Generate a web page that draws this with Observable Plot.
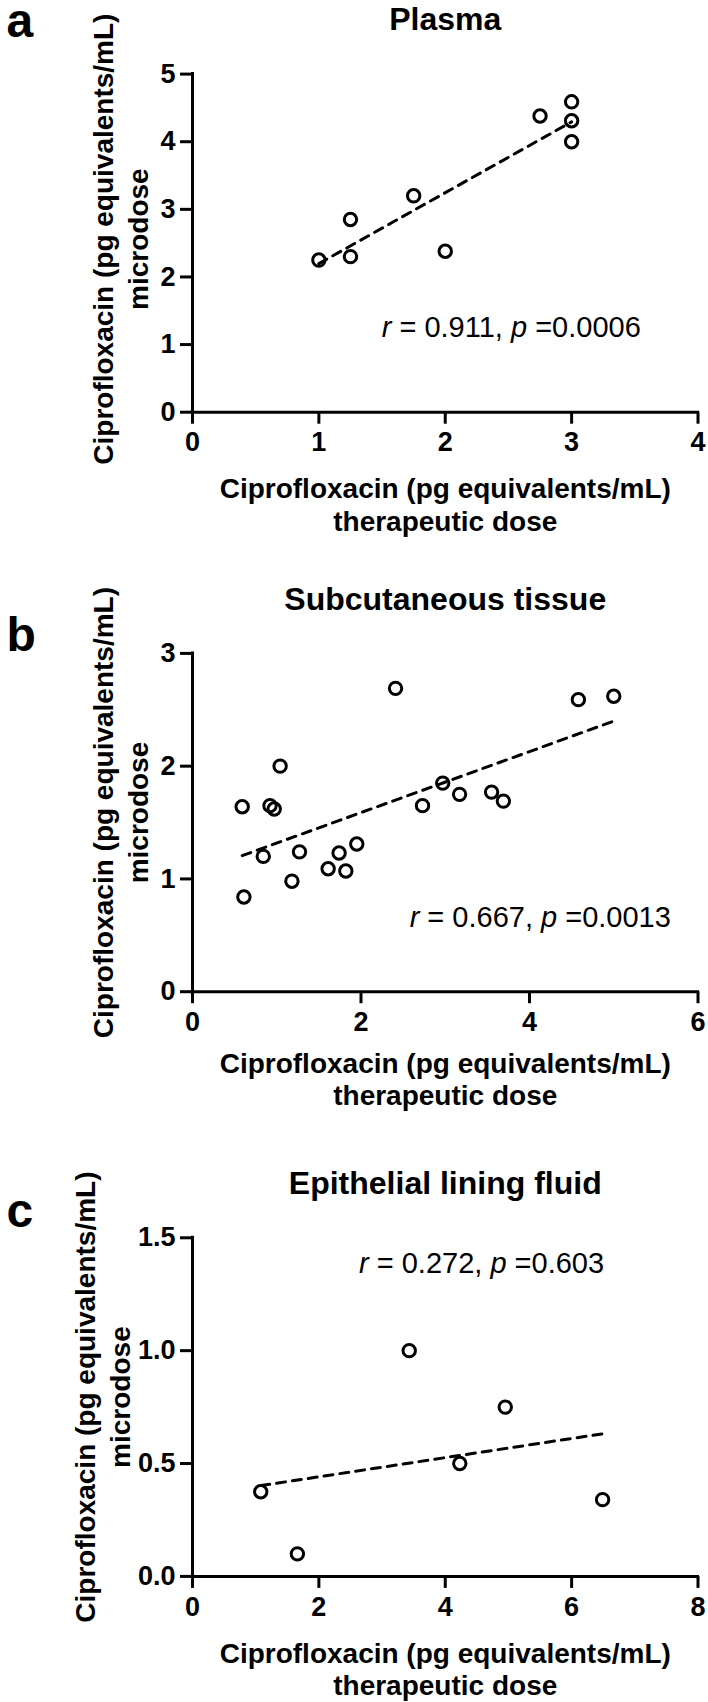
<!DOCTYPE html>
<html><head><meta charset="utf-8">
<script src="https://cdn.jsdelivr.net/npm/d3@7"></script>
<script src="https://cdn.jsdelivr.net/npm/@observablehq/plot@0.6"></script>
<style>html,body{margin:0;padding:0;background:#fff}#chart svg{display:block}</style>
</head><body><div id="chart"></div>
<script>
// ---- data ----
const plasmaX = [1, 1.25, 1.25, 1.75, 2, 2.75, 3, 3, 3];
const plasmaY = [2.25, 2.85, 2.3, 3.2, 2.38, 4.38, 4.59, 4.31, 4.0];

const subcX = [0.59, 0.61, 0.84, 0.92, 0.97, 1.04, 1.18, 1.27, 1.61, 1.74, 1.82, 1.95, 2.41, 2.73, 2.97, 3.17, 3.55, 3.69, 4.58, 5.0];
const subcY = [1.64, 0.84, 1.2, 1.65, 1.62, 2.0, 0.98, 1.24, 1.09, 1.23, 1.07, 1.31, 2.69, 1.65, 1.85, 1.75, 1.77, 1.69, 2.59, 2.62];

const elfX = [1.08, 1.66, 3.43, 4.23, 4.95, 6.49];
const elfY = [0.375, 0.1, 1.0, 0.5, 0.75, 0.34];

const titles = ["Plasma", "Subcutaneous tissue", "Epithelial lining fluid"];
const letters = ["a", "b", "c"];
const stats = [
  ["r", " = 0.911, ", "p", " =0.0006"],
  ["r", " = 0.667, ", "p", " =0.0013"],
  ["r", " = 0.272, ", "p", " =0.603"]
];
const xTicksA = [0, 1, 2, 3, 4];
const yTicksA = [0, 1, 2, 3, 4, 5];
const xTicksB = [0, 2, 4, 6];
const yTicksB = [0, 1, 2, 3];
const xTicksC = [0, 2, 4, 6, 8];
const yTicksC = [0, 0.5, 1.0, 1.5];

const xLabel = "Ciprofloxacin (pg equivalents/mL)\ntherapeutic dose";
const yLabel = "Ciprofloxacin (pg equivalents/mL)\nmicrodose";

const FONT = "'Liberation Sans', Arial, Helvetica, sans-serif";

function panel(cfg) {
  const data = cfg.xs.map((x, i) => ({x, y: cfg.ys[i]}));
  const statText = cfg.stat.join("");
  const svg = Plot.plot({
    width: 708, height: cfg.height,
    marginLeft: 192, marginRight: 10.5, marginTop: cfg.mt, marginBottom: cfg.mb,
    style: {fontFamily: FONT, background: "white", color: "black", overflow: "visible"},
    x: {domain: [cfg.xTicks[0], cfg.xTicks[cfg.xTicks.length - 1]], label: null},
    y: {domain: [cfg.yTicks[0], cfg.yTicks[cfg.yTicks.length - 1]], label: null},
    marks: [
      Plot.ruleY([0], {stroke: "black", strokeWidth: 3, strokeLinecap: "square"}),
      Plot.ruleX([0], {stroke: "black", strokeWidth: 3, strokeLinecap: "square"}),
      Plot.axisX({ticks: cfg.xTicks, tickSize: 12, tickPadding: 8, strokeWidth: 3, stroke: "black", fill: "black",
        fontSize: 27, fontWeight: "bold", tickFormat: cfg.xFmt}),
      Plot.axisY({ticks: cfg.yTicks, tickSize: 12, tickPadding: 5, strokeWidth: 3, stroke: "black", fill: "black",
        fontSize: 27, fontWeight: "bold", tickFormat: cfg.yFmt}),
      Plot.linearRegressionY(data, {x: "x", y: "y", ci: 0, stroke: "black", strokeWidth: 3, strokeDasharray: "9,7"}),
      Plot.dot(data, {x: "x", y: "y", r: 6.2, stroke: "black", strokeWidth: 3, fill: "none"}),
      Plot.text([cfg.title], {frameAnchor: "top", dy: -54, lineAnchor: "middle", fontSize: 32, fontWeight: "bold", fill: "black"}),
      Plot.text([cfg.letter], {frameAnchor: "top-left", textAnchor: "start", lineAnchor: "bottom", dx: -186, dy: cfg.letterDy,
        fontSize: 48, fontWeight: "bold", fill: "black"}),
      Plot.text([xLabel], {frameAnchor: "bottom", lineAnchor: "middle", dy: cfg.xlDy, fontSize: 28, fontWeight: "bold",
        lineHeight: 1.16, fill: "black"}),
      Plot.text([yLabel], {frameAnchor: "left", textAnchor: "middle", rotate: -90, dx: cfg.ylDx, dy: cfg.ylDy, lineAnchor: "middle",
        fontSize: 28, fontWeight: "bold", lineHeight: 1.25, fill: "black"}),
      Plot.text([statText], {frameAnchor: "middle", textAnchor: "middle", dx: cfg.statDx, dy: cfg.statDy, lineAnchor: "middle",
        fontSize: 29, fill: "black"})
    ]
  });
  // italicize r and p
  svg.querySelectorAll("text").forEach(t => {
    if (t.textContent === statText) {
      while (t.firstChild) t.removeChild(t.firstChild);
      cfg.stat.forEach((s, i) => {
        const ts = document.createElementNS("http://www.w3.org/2000/svg", "tspan");
        ts.textContent = s;
        if (i % 2 === 0) ts.setAttribute("font-style", "italic");
        t.appendChild(ts);
      });
    }
  });
  return svg;
}

const root = document.getElementById("chart");
root.appendChild(panel({xs: plasmaX, ys: plasmaY, xTicks: xTicksA, yTicks: yTicksA, xFmt: "d", yFmt: "d",
  height: 567, mt: 73.6, mb: 155.3, title: titles[0], letter: letters[0], letterDy: -37.5,
  xlDy: 92, ylDx: -73.5, ylDy: -4, stat: stats[0], statDx: 66, statDy: 84.5}));
root.appendChild(panel({xs: subcX, ys: subcY, xTicks: xTicksB, yTicks: yTicksB, xFmt: "d", yFmt: "d",
  height: 567, mt: 85.9, mb: 142.8, title: titles[1], letter: letters[1], letterDy: -2,
  xlDy: 87, ylDx: -73.5, ylDy: -10, stat: stats[1], statDx: 95, statDy: 95}));
root.appendChild(panel({xs: elfX, ys: elfY, xTicks: xTicksC, yTicks: yTicksC, xFmt: "d", yFmt: ".1f",
  height: 568, mt: 103.3, mb: 126.1, title: titles[2], letter: letters[2], letterDy: -11,
  xlDy: 92, ylDx: -91, ylDy: -10, stat: stats[2], statDx: 36.3, statDy: -143.6}));
</script></body></html>
